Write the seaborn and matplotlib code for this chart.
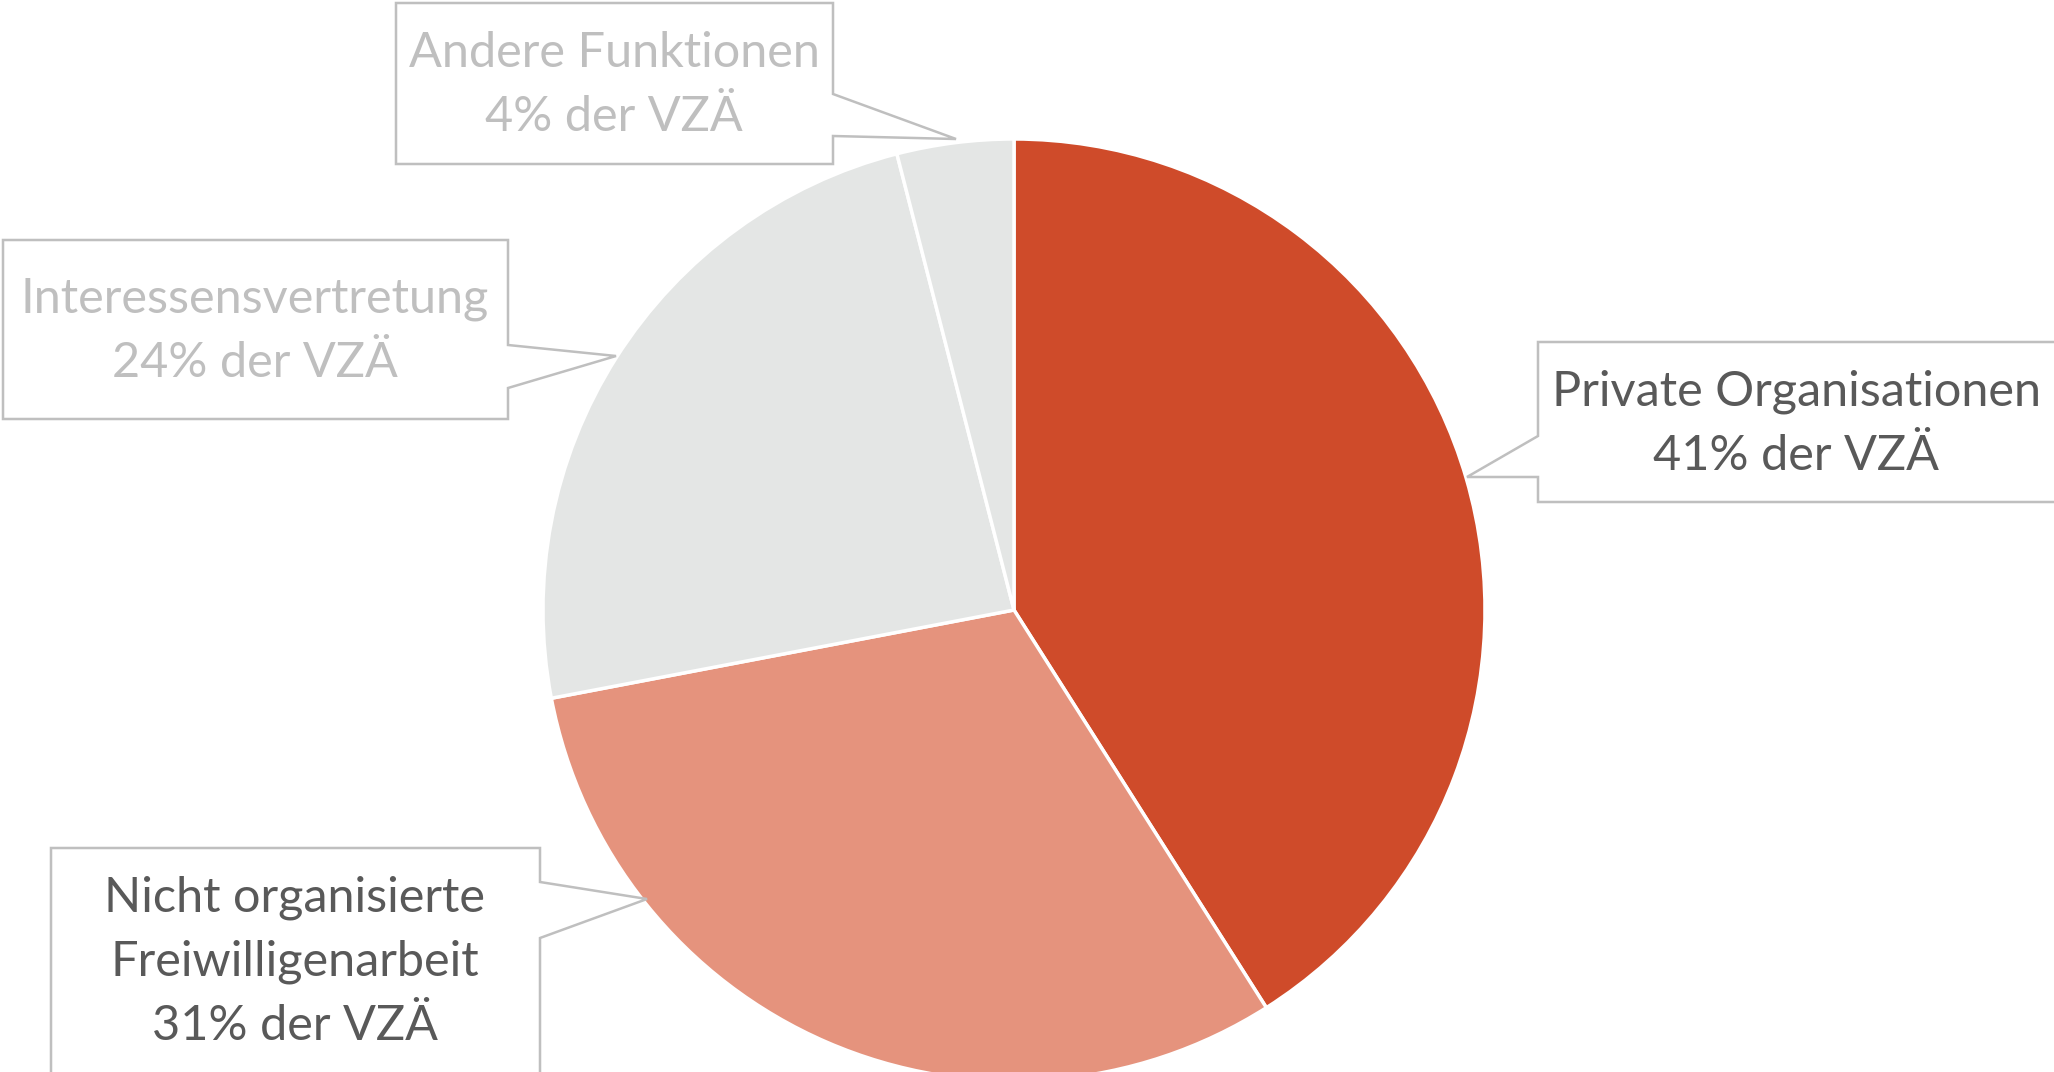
import matplotlib
matplotlib.use("Agg")
import matplotlib.pyplot as plt
from matplotlib.patches import Polygon
import seaborn as sns

categories = ["Private Organisationen", "Nicht organisierte\nFreiwilligenarbeit",
              "Interessensvertretung", "Andere Funktionen"]
shares = [41, 31, 24, 4]
colors = ["#CF4B2A", "#E5937D", "#E4E6E5", "#E4E6E5"]
text_colors = ["#595959", "#595959", "#BFBFBF", "#BFBFBF"]

sns.set_theme(style="white")
plt.rcParams['font.family'] = ['Lato', 'DejaVu Sans']

W, H = 2054, 1072
fig = plt.figure(figsize=(W / 100, H / 100), dpi=100)
ax = fig.add_axes([0, 0, 1, 1])

def Y(y):
    return H - y

ax.pie(shares, colors=colors, startangle=90, counterclock=False,
       center=(1014, Y(610)), radius=471,
       wedgeprops=dict(edgecolor="white", linewidth=2.5))
ax.set_xlim(0, W)
ax.set_ylim(0, H)
ax.set_aspect("equal")
ax.axis("off")

callouts = [
    dict(box=(1538, 2070, 342, 502), side="left", p=[(1538, 436), (1467, 477), (1538, 477)],
         text_xy=(1796, 424)),
    dict(box=(51, 540, 848, 1090), side="right", p=[(540, 882), (647, 899), (540, 938)],
         text_xy=(295, 962)),
    dict(box=(3, 508, 240, 419), side="right", p=[(508, 345), (616, 356), (508, 388)],
         text_xy=(255, 331)),
    dict(box=(396, 833, 3, 164), side="right", p=[(833, 94), (956, 139), (833, 136)],
         text_xy=(614, 85)),
]

for i, c in enumerate(callouts):
    x0, x1, y0, y1 = c["box"]
    p = c["p"]
    if c["side"] == "right":
        pts = [(x0, y0), (x1, y0), p[0], p[1], p[2], (x1, y1), (x0, y1)]
    else:
        pts = [(x0, y0), (x1, y0), (x1, y1), (x0, y1), p[2], p[1], p[0]]
    poly = Polygon([(x, Y(y)) for x, y in pts], closed=True, facecolor="white",
                   edgecolor="#BFBFBF", linewidth=1.8, zorder=5)
    ax.add_patch(poly)
    label = f"{categories[i]}\n{shares[i]}% der VZÄ"
    tx, ty = c["text_xy"]
    ax.text(tx, Y(ty), label, ha="center", va="center", fontsize=35,
            color=text_colors[i], linespacing=1.55, zorder=6)

fig.savefig("out.png", dpi=100)
